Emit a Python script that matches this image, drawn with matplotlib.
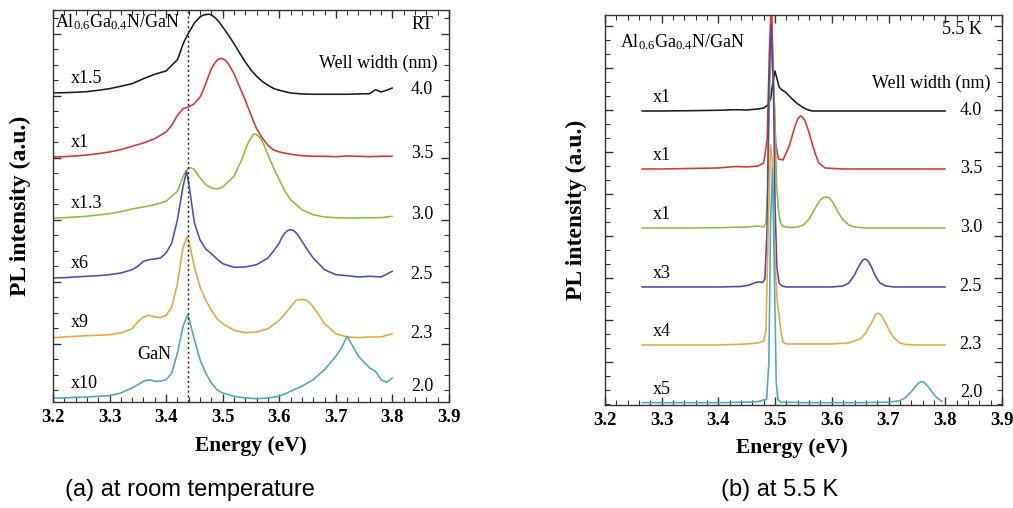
import numpy as np
import matplotlib
matplotlib.use("Agg")
import matplotlib.pyplot as plt
from matplotlib.ticker import MultipleLocator, FixedLocator, FormatStrFormatter

# ---------------------------------------------------------------------------
# Data: PL spectra of Al0.6Ga0.4N/GaN quantum wells (relative intensity, a.u.)
# ---------------------------------------------------------------------------
well_widths = ["4.0", "3.5", "3.0", "2.5", "2.3", "2.0"]
rt_scales = ["x1.5", "x1", "x1.3", "x6", "x9", "x10"]
lt_scales = ["x1", "x1", "x1", "x3", "x4", "x5"]
rt_offsets = [309, 245, 184, 124, 65, 4]
lt_offsets = [294, 236, 177, 118, 60, 2.3]
gan_rt_energy = 3.438

# Room temperature
rt_e_40 = [3.20, 3.22, 3.24, 3.26, 3.28, 3.30, 3.32, 3.34, 3.36, 3.38, 3.40, 3.42, 3.425, 3.43,
           3.435, 3.44, 3.45, 3.46, 3.465, 3.47, 3.475, 3.48, 3.485, 3.49, 3.495, 3.50, 3.51,
           3.52, 3.53, 3.54, 3.55, 3.56, 3.57, 3.58, 3.59, 3.60, 3.62, 3.64, 3.66, 3.68, 3.70,
           3.72, 3.74, 3.76, 3.77, 3.78, 3.79, 3.80]
rt_i_40 = [0, 0.3, 0.7, 1.3, 2.7, 4.3, 6.7, 9.3, 14.3, 18.7, 22, 33.3, 41, 49,
           55, 60.3, 70, 76, 77.7, 78.3, 78.8, 78, 76, 73.3, 70, 66, 58,
           49.3, 40, 31, 23, 16.7, 11.5, 7.7, 4.5, 2.7, 0, -1, -1.3, -1.3, -1.3,
           -1.3, -1, -0.7, 3.3, 1, 2.7, 5]

rt_e_35 = [3.20, 3.22, 3.24, 3.26, 3.28, 3.30, 3.32, 3.34, 3.36, 3.38, 3.40, 3.41, 3.42, 3.43,
           3.44, 3.45, 3.46, 3.465, 3.47, 3.475, 3.48, 3.485, 3.49, 3.495, 3.50, 3.505, 3.51,
           3.52, 3.53, 3.54, 3.55, 3.56, 3.57, 3.58, 3.59, 3.60, 3.62, 3.64, 3.66, 3.68, 3.70,
           3.72, 3.74, 3.76, 3.78, 3.80]
rt_i_35 = [0, 0.3, 1, 2, 3.3, 5, 7.3, 10.7, 14, 18.3, 25, 31.7, 41.7, 48.3,
           50, 53.3, 60, 66, 73.3, 81, 88.3, 93, 96.7, 98.5, 98.3, 96.5, 93.3,
           83.3, 70, 56.7, 42, 28.3, 19, 11.7, 7, 5, 2.7, 1.3, 0.7, 0.7, 0.3,
           1, 0.7, 0.3, 0.7, 0.7]

rt_e_30 = [3.20, 3.22, 3.24, 3.26, 3.28, 3.30, 3.32, 3.34, 3.36, 3.38, 3.40, 3.42, 3.43, 3.435,
           3.44, 3.445, 3.45, 3.46, 3.47, 3.48, 3.49, 3.50, 3.52, 3.535, 3.54, 3.545, 3.55,
           3.555, 3.56, 3.565, 3.57, 3.575, 3.58, 3.59, 3.60, 3.61, 3.62, 3.64, 3.66, 3.68,
           3.70, 3.72, 3.74, 3.76, 3.78, 3.80]
rt_i_30 = [0, 0.3, 1, 1.7, 3, 4.3, 6.3, 9, 11, 13.3, 16.7, 26.7, 41.7, 47,
           50, 50, 48.3, 40, 33.3, 30, 29, 31, 41.7, 60, 68.3, 75, 80,
           84, 83.3, 81, 76.7, 70, 63.3, 50, 38.3, 27, 18.3, 8.3, 3.3, 1,
           0.3, 0, 0, 0.3, 0.3, 1.7]

rt_e_25 = [3.20, 3.22, 3.24, 3.26, 3.28, 3.30, 3.32, 3.34, 3.35, 3.36, 3.37, 3.38, 3.39, 3.40,
           3.41, 3.42, 3.43, 3.436, 3.44, 3.45, 3.46, 3.47, 3.48, 3.49, 3.50, 3.52, 3.54, 3.56,
           3.58, 3.59, 3.60, 3.605, 3.61, 3.615, 3.62, 3.625, 3.63, 3.635, 3.64, 3.65, 3.66,
           3.68, 3.70, 3.72, 3.74, 3.76, 3.78, 3.80]
rt_i_25 = [0, 0.3, 1, 1.7, 2.3, 3.3, 5, 8.3, 11.7, 16.7, 18.3, 19, 20, 25,
           35, 58.3, 91.7, 106.7, 95, 55, 38, 29, 24.3, 19, 14.3, 10.7, 11, 13.3,
           20, 27, 35, 41, 45, 47.5, 48.3, 47.5, 45, 41.5, 36.7, 28, 20,
           8.3, 3.3, 2.3, 1, 1.7, 1, 6.7]

rt_e_23 = [3.20, 3.22, 3.24, 3.26, 3.28, 3.30, 3.32, 3.34, 3.35, 3.36, 3.37, 3.38, 3.39, 3.40,
           3.41, 3.42, 3.43, 3.437, 3.44, 3.45, 3.46, 3.47, 3.48, 3.49, 3.50, 3.52, 3.54, 3.56,
           3.58, 3.60, 3.61, 3.62, 3.625, 3.63, 3.635, 3.64, 3.645, 3.65, 3.655, 3.66, 3.67,
           3.68, 3.70, 3.72, 3.74, 3.76, 3.78, 3.80]
rt_i_23 = [-0.7, 0, 0.7, 1.3, 1.7, 2.3, 4, 8.3, 15, 20, 21.7, 20, 19.3, 21.7,
           30, 53.3, 90, 100, 96.7, 70, 50, 36.7, 26.7, 18.3, 13.3, 6.7, 4.3, 5,
           8.3, 16.7, 23, 30, 33.5, 36.7, 37.3, 37.3, 37.3, 36, 33.5, 30, 22,
           13.3, 3.3, 0, -0.7, 0, 0, 3.3]

rt_e_20 = [3.20, 3.22, 3.24, 3.26, 3.28, 3.30, 3.32, 3.34, 3.35, 3.36, 3.37, 3.38, 3.39, 3.40,
           3.41, 3.42, 3.43, 3.438, 3.44, 3.45, 3.46, 3.47, 3.48, 3.49, 3.50, 3.52, 3.54, 3.56,
           3.58, 3.60, 3.62, 3.64, 3.66, 3.68, 3.70, 3.71, 3.72, 3.73, 3.74, 3.76, 3.77, 3.78,
           3.79, 3.80]
rt_i_20 = [0, 0, 0.7, 1, 1.7, 2.3, 5, 10, 13.3, 16.7, 18.3, 16.7, 16.7, 18.3,
           25, 45, 71.7, 83.3, 80, 58.3, 38.3, 25, 15, 8.3, 5, 1.7, 0, -0.7,
           0, 1.7, 6.7, 11.7, 18.3, 28.3, 41.7, 50, 61.7, 51.7, 41.7, 30, 26.7, 18.3,
           15.7, 20]

# 5.5 K
lt_e_40 = [3.265, 3.30, 3.35, 3.40, 3.43, 3.45, 3.47, 3.48, 3.487, 3.492, 3.496, 3.4997, 3.503,
           3.507, 3.512, 3.518, 3.525, 3.532, 3.54, 3.548, 3.556, 3.565, 3.60, 3.70, 3.80]
lt_i_40 = [0, 0, 0.3, 0.7, 1.3, 1, 2, 3, 6, 12, 28, 40, 33,
           24, 21, 19, 15, 11, 7, 4, 1.5, 0, 0, 0, 0]

lt_e_35 = [3.265, 3.30, 3.35, 3.40, 3.43, 3.45, 3.47, 3.48, 3.486, 3.490, 3.4935, 3.497, 3.501,
           3.506, 3.514, 3.525, 3.531, 3.537, 3.541, 3.545, 3.549, 3.553, 3.559, 3.565, 3.571,
           3.577, 3.588, 3.62, 3.70, 3.80]
lt_i_35 = [0, 0, 0.5, 1, 2.5, 2, 3, 6, 30, 120, 170, 90, 25,
           10, 9, 23, 35, 46, 51, 53, 51.5, 48, 38, 26, 15,
           6, 1, 0, 0, 0]

lt_e_30 = [3.265, 3.30, 3.35, 3.40, 3.45, 3.47, 3.48, 3.484, 3.487, 3.491, 3.495, 3.499, 3.503,
           3.506, 3.509, 3.513, 3.52, 3.53, 3.54, 3.55, 3.56, 3.565, 3.57, 3.575, 3.58, 3.585,
           3.591, 3.596, 3.60, 3.605, 3.61, 3.615, 3.62, 3.63, 3.64, 3.66, 3.70, 3.80]
lt_i_30 = [0, 0, 0, 0.3, 1, 2, 1, 5, 40, 150, 180, 120, 40,
           18, 6, 2, 1, 0.5, 1, 3, 9, 14, 19, 24, 28, 30.5,
           31, 30, 27, 22.5, 17, 12, 8, 3, 1, 0, 0, 0]

lt_e_25 = [3.265, 3.30, 3.35, 3.40, 3.44, 3.455, 3.465, 3.472, 3.478, 3.482, 3.486, 3.489, 3.493,
           3.497, 3.500, 3.503, 3.507, 3.512, 3.52, 3.55, 3.60, 3.62, 3.63, 3.64, 3.645, 3.65,
           3.654, 3.658, 3.662, 3.665, 3.67, 3.675, 3.68, 3.685, 3.695, 3.71, 3.75, 3.80]
lt_i_25 = [0, 0, 0, 0, 0.5, 2, 4.5, 5, 4.5, 8, 60, 200, 262,
           200, 80, 20, 4, 1, 0, 0, 0, 1, 4, 12, 18, 23,
           26.5, 28, 27, 25, 20, 13, 8, 4, 1, 0, 0, 0]

lt_e_23 = [3.265, 3.30, 3.35, 3.40, 3.45, 3.47, 3.48, 3.484, 3.488, 3.492, 3.495, 3.498, 3.501,
           3.504, 3.507, 3.510, 3.514, 3.52, 3.55, 3.60, 3.63, 3.65, 3.66, 3.664, 3.67, 3.675,
           3.678, 3.682, 3.686, 3.69, 3.695, 3.70, 3.705, 3.71, 3.72, 3.73, 3.75, 3.80]
lt_i_23 = [0, 0, 0, 0, 1, 2, 4, 15, 120, 200, 185, 120, 70,
           42, 30, 15, 3, 1, 1, 1, 2, 6, 12, 17, 22, 28,
           31, 32, 30.5, 27, 22, 16, 11, 7, 2, 0.5, 0, 0]

lt_e_20 = [3.265, 3.30, 3.35, 3.40, 3.45, 3.47, 3.478, 3.485, 3.489, 3.492, 3.4955, 3.499, 3.502,
           3.505, 3.51, 3.55, 3.60, 3.65, 3.70, 3.72, 3.73, 3.74, 3.745, 3.75, 3.754, 3.758,
           3.762, 3.765, 3.77, 3.775, 3.78, 3.785, 3.795]
lt_i_20 = [0, 0, 0, 0, 0.5, 1, 2.5, 3, 40, 180, 235, 120, 20,
           3, 0.5, 0, 0, 0, 0.5, 2, 5, 11, 14.5, 18, 20, 21,
           20.5, 19, 16, 12, 8.5, 5, 1]

rt_spectra = [(rt_e_40, rt_i_40), (rt_e_35, rt_i_35), (rt_e_30, rt_i_30),
              (rt_e_25, rt_i_25), (rt_e_23, rt_i_23), (rt_e_20, rt_i_20)]
lt_spectra = [(lt_e_40, lt_i_40), (lt_e_35, lt_i_35), (lt_e_30, lt_i_30),
              (lt_e_25, lt_i_25), (lt_e_23, lt_i_23), (lt_e_20, lt_i_20)]

rt_colors = ["#1c1c1c", "#e2342c", "#8cbf3a", "#4650bf", "#f0a435", "#4aa8c2"]
lt_colors = ["#1c1c1c", "#e2342c", "#8cbf3a", "#5a42ab", "#f0a435", "#4aa8c2"]

# ---------------------------------------------------------------------------
plt.rcParams["font.family"] = ["Liberation Serif", "DejaVu Serif"]
plt.rcParams["mathtext.fontset"] = "custom"
plt.rcParams["mathtext.rm"] = "Liberation Serif"
plt.rcParams["mathtext.it"] = "Liberation Serif:italic"
plt.rcParams["mathtext.bf"] = "Liberation Serif:bold"

fig = plt.figure(figsize=(10.13, 5.08), dpi=100)
ax1 = fig.add_axes([0.0523, 0.2087, 0.3909, 0.7717])
ax2 = fig.add_axes([0.5972, 0.2028, 0.3919, 0.7677])

FRAME = "#333333"
TXT = 13


def style_axes(ax, ymax, majors, minors):
    ax.set_xlim(3.2, 3.9)
    ax.set_ylim(0, ymax)
    ax.xaxis.set_major_locator(MultipleLocator(0.1))
    ax.xaxis.set_minor_locator(MultipleLocator(0.02))
    ax.xaxis.set_major_formatter(FormatStrFormatter("%.1f"))
    ax.yaxis.set_major_locator(FixedLocator(majors))
    ax.yaxis.set_minor_locator(FixedLocator(minors))
    ax.tick_params(which="both", direction="in", top=True, right=True,
                   labelleft=False, color=FRAME)
    ax.tick_params(which="major", length=6, width=1.0, pad=5)
    ax.tick_params(which="minor", length=3.5, width=0.8)
    for lbl in ax.get_xticklabels():
        lbl.set_fontweight("bold")
        lbl.set_fontsize(13.5)
    for sp in ax.spines.values():
        sp.set_color(FRAME)
        sp.set_linewidth(1.0)
    ax.set_xlabel("Energy (eV)", fontsize=15.5, fontweight="bold")
    ax.set_ylabel("PL intensity (a.u.)", fontsize=17, fontweight="bold")


style_axes(ax1, 392, np.arange(58, 392, 62), np.arange(-4, 392, 15.5))
style_axes(ax2, 390, np.arange(43, 390, 42), np.arange(1, 390, 14))
ax1.xaxis.set_label_coords(0.5, -0.088)
ax2.xaxis.set_label_coords(0.47, -0.085)
ax1.yaxis.set_label_coords(-0.055, 0.5)
ax2.yaxis.set_label_coords(-0.045, 0.5)

line_kw = dict(lw=1.15, solid_joinstyle="round", solid_capstyle="round")

# Room-temperature spectra
for (e, i), off, col in zip(rt_spectra, rt_offsets, rt_colors):
    ax1.plot(e, np.asarray(i) + off, color=col, **line_kw)
ax1.axvline(gan_rt_energy, color="#222222", ls=(0, (1.5, 2)), lw=1.0)

for off, s, w in zip(rt_offsets, rt_scales, well_widths):
    ax1.text(3.232, off + 14, s, fontsize=TXT, ha="left", va="center")
    ax1.text(3.872, max(off + 3, 15), w, fontsize=TXT, ha="right", va="center")
ax1.text(3.379, 47, "GaN", fontsize=TXT, ha="center", va="center")
ax1.text(0.005, 0.969, r"Al$_{\mathrm{0.6}}$Ga$_{\mathrm{0.4}}$N/GaN", transform=ax1.transAxes,
         fontsize=TXT, ha="left", va="center")
ax1.text(0.96, 0.962, "RT", transform=ax1.transAxes, fontsize=TXT, ha="right", va="center")
ax1.text(0.97, 0.865, "Well width (nm)", transform=ax1.transAxes, fontsize=TXT,
         ha="right", va="center")

# 5.5 K spectra
for (e, i), off, col in zip(lt_spectra, lt_offsets, lt_colors):
    ax2.plot(e, np.asarray(i) + off, color=col, **line_kw)

for off, s, w in zip(lt_offsets, lt_scales, well_widths):
    ax2.text(3.285, off + 13, s, fontsize=TXT, ha="left", va="center")
    ax2.text(3.865, max(off, 12), w, fontsize=TXT, ha="right", va="center")
ax2.text(0.038, 0.931, r"Al$_{\mathrm{0.6}}$Ga$_{\mathrm{0.4}}$N/GaN", transform=ax2.transAxes,
         fontsize=TXT, ha="left", va="center")
ax2.text(0.95, 0.962, "5.5 K", transform=ax2.transAxes, fontsize=TXT, ha="right", va="center")
ax2.text(0.97, 0.826, "Well width (nm)", transform=ax2.transAxes, fontsize=TXT,
         ha="right", va="center")

# Panel captions
fig.text(190 / 1013, 1 - 490 / 508, "(a) at room temperature", family="Liberation Sans",
         fontsize=17, ha="center", va="center")
fig.text(780 / 1013, 1 - 490 / 508, "(b) at 5.5 K", family="Liberation Sans",
         fontsize=17, ha="center", va="center")

fig.savefig("out.png", dpi=100)
